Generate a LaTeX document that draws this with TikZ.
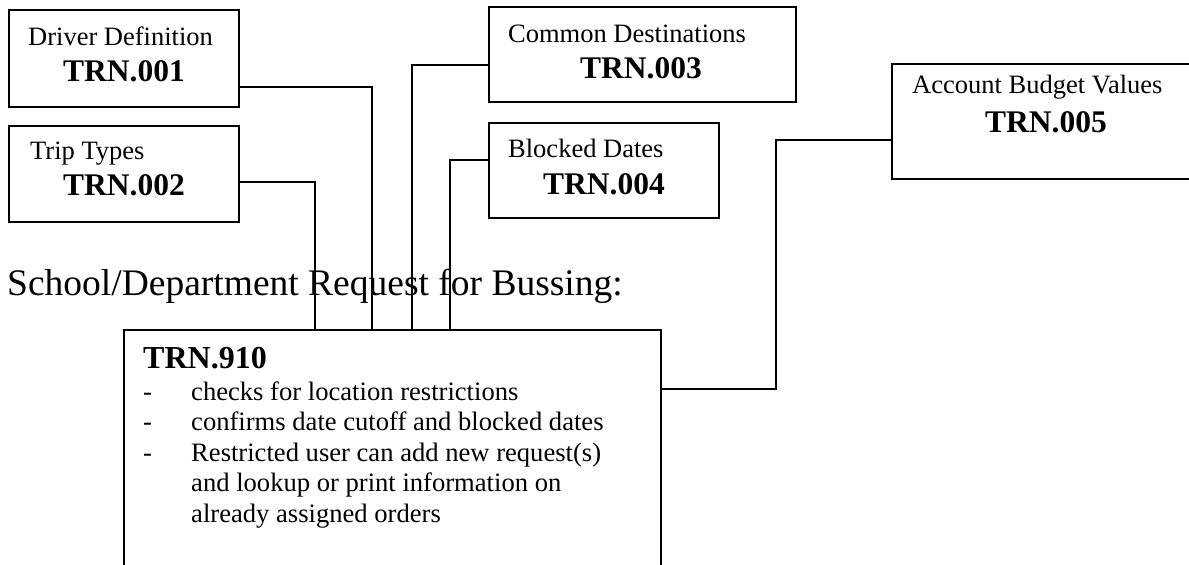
\documentclass[tikz,border=0pt]{standalone}
\usepackage{fontspec}
\setmainfont{Liberation Serif}
\begin{document}
\begin{tikzpicture}[x=1pt,y=-1pt,
  box/.style={draw=black,line width=1.8pt,rectangle,inner sep=0pt,anchor=north west},
  link/.style={draw=black,line width=1.4pt},
  txt/.style={anchor=base west,inner sep=0pt,font=\fontsize{26.5}{30}\selectfont},
  code/.style={anchor=base west,inner sep=0pt,font=\fontsize{31.5}{36}\selectfont\bfseries},
  head/.style={anchor=base west,inner sep=0pt,font=\fontsize{37.5}{44}\selectfont},
  item/.style={anchor=base west,inner sep=0pt,font=\fontsize{26.6}{30}\selectfont}]
\useasboundingbox (0,0) rectangle (1189,565);

% source tables
\node[box,minimum width=230pt,minimum height=97pt] (b1) at (8,9) {};
\node[box,minimum width=230pt,minimum height=96pt] (b2) at (8,125) {};
\node[box,minimum width=307pt,minimum height=95pt] (b3) at (488,6) {};
\node[box,minimum width=230pt,minimum height=95pt] (b4) at (488,122) {};
\node[box,minimum width=310pt,minimum height=115pt] (b5) at (891,63) {};

\node[txt] (t1) at (28,45) {Driver Definition};
\node[code] (c1) at (63,81) {TRN.001};
\node[txt] (t2) at (30,159) {Trip Types};
\node[code] (c2) at (63,195) {TRN.002};
\node[txt] (t3) at (508,42) {Common Destinations};
\node[code] (c3) at (580,78) {TRN.003};
\node[txt] (t4) at (508,157) {Blocked Dates};
\node[code] (c4) at (543,194) {TRN.004};
\node[txt] (t5) at (912,93) {Account Budget Values};
\node[code] (c5) at (985,132) {TRN.005};

% heading
\node[head] (hd) at (7,295) {School/Department Request for Bussing:};

% request screen
\node[box,minimum width=537pt,minimum height=245pt] (main) at (123,329) {};
\node[code,font=\fontsize{32}{36}\selectfont\bfseries] (m0) at (143,368) {TRN.910};
\node[item] (d1) at (143,400) {-};
\node[item] (d2) at (143,430.5) {-};
\node[item] (d3) at (143,461) {-};
\node[item] (l1) at (191,400) {checks for location restrictions};
\node[item] (l2) at (191,430.5) {confirms date cutoff and blocked dates};
\node[item] (l3) at (191,461) {Restricted user can add new request(s)};
\node[item] (l4) at (191,491.5) {and lookup or print information on};
\node[item] (l5) at (191,522) {already assigned orders};

% connectors
\draw[link] (b1.east |- {0,87}) -| ({372,0} |- main.north);
\draw[link] (b2.east |- {0,182}) -| ({315,0} |- main.north);
\draw[link] (b3.west |- {0,65}) -| ({412,0} |- main.north);
\draw[link] (b4.west |- {0,160}) -| ({450,0} |- main.north);
\draw[link] (main.east |- {0,389}) -| ({776,140}) -- (b5.west |- {0,140});
\end{tikzpicture}
\end{document}
